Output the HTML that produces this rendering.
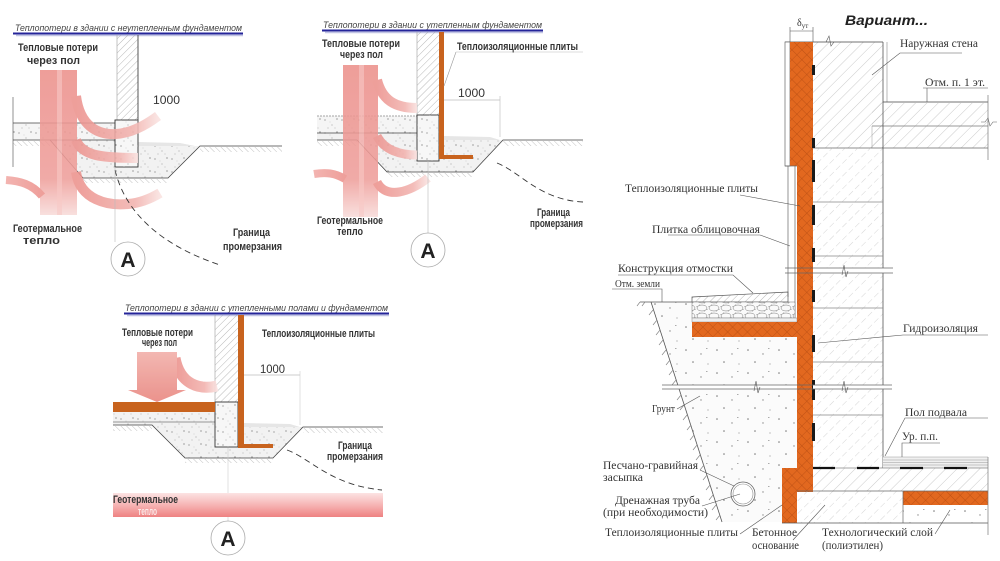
<!DOCTYPE html>
<html><head><meta charset="utf-8"><style>html,body{margin:0;padding:0;background:#fff;}svg{display:block}</style></head><body>
<svg width="1000" height="561" viewBox="0 0 1000 561" xmlns="http://www.w3.org/2000/svg" font-family="Liberation Sans, sans-serif">
<defs>
<pattern id="hw" width="5" height="5" patternUnits="userSpaceOnUse" patternTransform="rotate(45)"><line x1="0" y1="0" x2="0" y2="5" stroke="#9a9a9a" stroke-width="0.7"/></pattern>
<pattern id="hc" width="8" height="8" patternUnits="userSpaceOnUse" patternTransform="rotate(45)"><line x1="0" y1="0" x2="0" y2="8" stroke="#a8a8a8" stroke-width="0.6"/></pattern>
<pattern id="hb" width="9" height="9" patternUnits="userSpaceOnUse" patternTransform="rotate(45)"><line x1="0" y1="0" x2="0" y2="6" stroke="#b8b8b8" stroke-width="0.6"/></pattern>
<pattern id="hg" width="4" height="4" patternUnits="userSpaceOnUse" patternTransform="rotate(-45)"><line x1="0" y1="0" x2="0" y2="4" stroke="#999" stroke-width="0.6"/></pattern>
<pattern id="dots" width="17" height="13" patternUnits="userSpaceOnUse"><circle cx="2" cy="3" r=".6" fill="#777"/><circle cx="9" cy="8" r=".5" fill="#888"/><circle cx="14" cy="2" r=".6" fill="#666"/><circle cx="5" cy="11" r=".5" fill="#999"/><circle cx="12" cy="11" r=".4" fill="#777"/><circle cx="7" cy="5" r=".4" fill="#aaa"/></pattern>
<pattern id="sp" width="31" height="23" patternUnits="userSpaceOnUse"><circle cx="4" cy="5" r=".8" fill="#777"/><circle cx="19" cy="9" r=".7" fill="#888"/><circle cx="11" cy="17" r=".8" fill="#777"/><circle cx="26" cy="19" r=".6" fill="#999"/><rect x="24" y="3" width="1.5" height=".7" fill="#888"/></pattern>
<pattern id="peb" width="12" height="8" patternUnits="userSpaceOnUse"><rect width="12" height="8" fill="#fafafa"/><ellipse cx="6" cy="4" rx="5" ry="3" fill="none" stroke="#777" stroke-width=".5"/><ellipse cx="0" cy="0" rx="4" ry="2.5" fill="none" stroke="#888" stroke-width=".4"/><ellipse cx="12" cy="8" rx="4" ry="2.5" fill="none" stroke="#888" stroke-width=".4"/></pattern>
<pattern id="or" width="7" height="7" patternUnits="userSpaceOnUse" patternTransform="rotate(45)"><rect width="7" height="7" fill="#e2681f"/><path d="M0 0H7M0 0V7" stroke="#b34a12" stroke-width="0.7"/></pattern>
<linearGradient id="pv" x1="0" y1="0" x2="0" y2="1"><stop offset="0" stop-color="#ec918c"/><stop offset=".75" stop-color="#ef9f9b"/><stop offset="1" stop-color="#f8dcda"/></linearGradient>
<linearGradient id="ph" x1="0" y1="0" x2="1" y2="0"><stop offset="0" stop-color="#ec928d"/><stop offset=".7" stop-color="#f2b3af"/><stop offset="1" stop-color="#fae2e0"/></linearGradient>
<linearGradient id="pl" x1="1" y1="0" x2="0" y2="0"><stop offset="0" stop-color="#ec928d"/><stop offset="1" stop-color="#f2aaa6"/></linearGradient>
<linearGradient id="geo" x1="0" y1="0" x2="0" y2="1"><stop offset="0" stop-color="#fce3e3"/><stop offset=".5" stop-color="#f6b4b4"/><stop offset="1" stop-color="#ee8282"/></linearGradient>
<linearGradient id="ar" x1="0" y1="0" x2="0" y2="1"><stop offset="0" stop-color="#f2b0aa"/><stop offset="1" stop-color="#e98780"/></linearGradient>
</defs>
<rect width="1000" height="561" fill="#fff"/>

<!-- ============ DIAGRAM 1 ============ -->
<g>
<text x="15" y="31" font-style="italic" font-size="9" fill="#444" textLength="227" lengthAdjust="spacingAndGlyphs">Теплопотери в здании с неутепленным фундаментом</text>
<line x1="13" y1="33.5" x2="243" y2="33.5" stroke="#25259a" stroke-width="2"/>
<line x1="16" y1="35.5" x2="243" y2="35.5" stroke="#a7acd9" stroke-width="1.5" opacity=".7"/>
<rect x="13" y="123" width="102" height="17" fill="#f5f5f5"/>
<rect x="13" y="123" width="102" height="17" fill="url(#dots)"/>
<polygon points="50,140 115,140 115,167 138,167 138,146 200,146 168,178 83,178" fill="#f2f2f2"/>
<polygon points="50,140 115,140 115,167 138,167 138,146 200,146 168,178 83,178" fill="url(#dots)"/>
<polygon points="138,146 138,142 180,143 195,146" fill="#e6e6e6"/>
<rect x="13" y="141" width="37" height="5" fill="url(#hg)"/>
<rect x="200" y="147" width="82" height="5" fill="url(#hg)"/>
<rect x="83" y="179" width="85" height="4" fill="url(#hg)"/>
<line x1="13" y1="97" x2="13" y2="167" stroke="#777" stroke-width=".8"/>
<line x1="13" y1="123" x2="115" y2="123" stroke="#444" stroke-width=".8"/>
<line x1="13" y1="140" x2="115" y2="140" stroke="#444" stroke-width=".8"/>
<polyline points="50,140 83,178 168,178 200,146 282,146" fill="none" stroke="#444" stroke-width=".8"/>
<rect x="117" y="35" width="21" height="85" fill="url(#hw)"/>
<line x1="117" y1="35" x2="117" y2="120" stroke="#aaa" stroke-width=".7"/>
<line x1="138" y1="35" x2="138" y2="120" stroke="#444" stroke-width=".9"/>
<rect x="115" y="120" width="23" height="47" fill="#f7f7f7" stroke="#333" stroke-width=".9"/>
<rect x="115" y="120" width="23" height="47" fill="url(#dots)"/>
<g opacity=".88">
<rect x="40" y="70" width="37" height="145" fill="url(#pv)"/>
<rect x="57" y="70" width="5" height="145" fill="#f6c2be" opacity=".6"/>
<path d="M76,96 C80,128 100,135 116,134 C132,133 146,125 158,116" fill="none" stroke="url(#ph)" stroke-width="10"/>
<path d="M76,140 C82,156 102,158 138,158" fill="none" stroke="url(#ph)" stroke-width="10"/>
<path d="M76,172 C80,200 108,206 128,204 C140,203 150,199 160,193" fill="none" stroke="url(#ph)" stroke-width="10"/>
<path d="M42,196 C32,184 20,181 6,180" fill="none" stroke="url(#pl)" stroke-width="8"/>
</g>
<path d="M115,170 C125,212 160,245 220,265" fill="none" stroke="#333" stroke-width=".9" stroke-dasharray="6 4"/>
<line x1="115" y1="167" x2="115" y2="242" stroke="#bbb" stroke-width=".6"/>
<text x="153" y="104" font-size="12" fill="#333" textLength="27" lengthAdjust="spacingAndGlyphs">1000</text>
<g font-weight="bold" font-size="11" fill="#333">
<text x="18" y="51" textLength="80" lengthAdjust="spacingAndGlyphs">Тепловые потери</text>
<text x="27" y="64" textLength="53" lengthAdjust="spacingAndGlyphs">через пол</text>
<text x="13" y="232" textLength="69" lengthAdjust="spacingAndGlyphs">Геотермальное</text>
<text x="23" y="244" textLength="37" lengthAdjust="spacingAndGlyphs">тепло</text>
<text x="233" y="236" textLength="37" lengthAdjust="spacingAndGlyphs">Граница</text>
<text x="223" y="250" textLength="59" lengthAdjust="spacingAndGlyphs">промерзания</text>
</g>
<circle cx="128" cy="259" r="17" fill="#fff" stroke="#aaa" stroke-width=".8"/>
<text x="128" y="267" font-size="21" font-weight="bold" text-anchor="middle" fill="#222">A</text>
</g>

<!-- ============ DIAGRAM 2 ============ -->
<g>
<text x="323" y="28" font-style="italic" font-size="9" fill="#444" textLength="219" lengthAdjust="spacingAndGlyphs">Теплопотери в здании с утепленным фундаментом</text>
<line x1="322" y1="30.5" x2="543" y2="30.5" stroke="#25259a" stroke-width="2"/>
<line x1="325" y1="32.5" x2="543" y2="32.5" stroke="#a7acd9" stroke-width="1.5" opacity=".7"/>
<rect x="317" y="116" width="100" height="17" fill="#f5f5f5"/>
<rect x="317" y="116" width="100" height="17" fill="url(#dots)"/>
<polygon points="317,133 417,133 417,161 439,161 439,140 503,140 473,172 387,172 357,140 317,140" fill="#f2f2f2"/>
<polygon points="317,133 417,133 417,161 439,161 439,140 503,140 473,172 387,172 357,140 317,140" fill="url(#dots)"/>
<polygon points="444,140 444,136 490,137 500,140" fill="#e6e6e6"/>
<rect x="317" y="141" width="40" height="5" fill="url(#hg)"/>
<rect x="503" y="141" width="80" height="5" fill="url(#hg)"/>
<rect x="387" y="173" width="86" height="4" fill="url(#hg)"/>
<line x1="317" y1="116" x2="417" y2="116" stroke="#888" stroke-width=".8" stroke-dasharray="2 1"/>
<line x1="317" y1="133" x2="417" y2="133" stroke="#444" stroke-width=".8"/>
<polyline points="317,140 357,140 387,172 473,172 503,140 583,140" fill="none" stroke="#444" stroke-width=".8"/>
<rect x="417" y="32" width="22" height="83" fill="url(#hw)"/>
<line x1="417" y1="32" x2="417" y2="115" stroke="#aaa" stroke-width=".7"/>
<rect x="417" y="115" width="22" height="46" fill="#f7f7f7" stroke="#333" stroke-width=".9"/>
<rect x="417" y="115" width="22" height="46" fill="url(#dots)"/>
<rect x="439" y="32" width="5" height="127" fill="#c8631e"/>
<rect x="439" y="155" width="34" height="4" fill="#c8631e"/>
<g opacity=".88">
<rect x="343" y="65" width="35" height="152" fill="url(#pv)"/>
<rect x="359" y="65" width="5" height="152" fill="#f6c2be" opacity=".6"/>
<path d="M377,80 C382,100 395,108 417,108" fill="none" stroke="url(#ph)" stroke-width="10"/>
<path d="M377,136 C384,150 400,155 417,155" fill="none" stroke="url(#ph)" stroke-width="9"/>
<path d="M377,182 C386,200 410,192 428,178" fill="none" stroke="url(#ph)" stroke-width="9"/>
<path d="M345,179 C335,173 326,172 314,174" fill="none" stroke="url(#pl)" stroke-width="8"/>
</g>
<path d="M497,163 C520,172 540,200 583,202" fill="none" stroke="#333" stroke-width=".9" stroke-dasharray="6 4"/>
<line x1="428" y1="161" x2="428" y2="233" stroke="#bbb" stroke-width=".6"/>
<line x1="444" y1="100" x2="500" y2="100" stroke="#999" stroke-width=".6"/>
<line x1="500" y1="96" x2="500" y2="137" stroke="#bbb" stroke-width=".6"/>
<line x1="444" y1="86" x2="456" y2="52" stroke="#999" stroke-width=".6"/>
<line x1="456" y1="52" x2="583" y2="52" stroke="#bbb" stroke-width=".6"/>
<text x="458" y="97" font-size="12" fill="#333" textLength="27" lengthAdjust="spacingAndGlyphs">1000</text>
<g font-weight="bold" font-size="11" fill="#333">
<text x="322" y="47" textLength="78" lengthAdjust="spacingAndGlyphs">Тепловые потери</text>
<text x="340" y="58" textLength="43" lengthAdjust="spacingAndGlyphs">через пол</text>
<text x="457" y="50" textLength="121" lengthAdjust="spacingAndGlyphs">Теплоизоляционные плиты</text>
<text x="317" y="224" textLength="66" lengthAdjust="spacingAndGlyphs">Геотермальное</text>
<text x="337" y="235" textLength="26" lengthAdjust="spacingAndGlyphs">тепло</text>
<text x="537" y="216" textLength="33" lengthAdjust="spacingAndGlyphs">Граница</text>
<text x="530" y="227" textLength="53" lengthAdjust="spacingAndGlyphs">промерзания</text>
</g>
<circle cx="428" cy="250" r="17" fill="#fff" stroke="#aaa" stroke-width=".8"/>
<text x="428" y="258" font-size="21" font-weight="bold" text-anchor="middle" fill="#222">A</text>
</g>

<!-- ============ DIAGRAM 3 ============ -->
<g>
<text x="125" y="311" font-style="italic" font-size="9" fill="#444" textLength="263" lengthAdjust="spacingAndGlyphs">Теплопотери в здании с утепленными полами и фундаментом</text>
<line x1="124" y1="313.5" x2="389" y2="313.5" stroke="#25259a" stroke-width="2"/>
<line x1="127" y1="315.5" x2="389" y2="315.5" stroke="#a7acd9" stroke-width="1.5" opacity=".7"/>
<polygon points="113,412 215,412 215,447 238,447 238,427 303,427 273,458 185,458 152,425 113,425" fill="#f2f2f2"/>
<polygon points="113,412 215,412 215,447 238,447 238,427 303,427 273,458 185,458 152,425 113,425" fill="url(#dots)"/>
<polygon points="244,427 244,423 290,424 300,427" fill="#e6e6e6"/>
<rect x="113" y="426" width="39" height="5" fill="url(#hg)"/>
<rect x="303" y="428" width="80" height="5" fill="url(#hg)"/>
<rect x="185" y="459" width="88" height="4" fill="url(#hg)"/>
<line x1="113" y1="422" x2="215" y2="422" stroke="#777" stroke-width=".7"/>
<polyline points="113,425 152,425 185,458 273,458 303,427 383,427" fill="none" stroke="#444" stroke-width=".8"/>
<rect x="215" y="315" width="23" height="87" fill="url(#hw)"/>
<line x1="215" y1="315" x2="215" y2="402" stroke="#aaa" stroke-width=".7"/>
<rect x="215" y="402" width="23" height="45" fill="#f7f7f7" stroke="#333" stroke-width=".9"/>
<rect x="215" y="402" width="23" height="45" fill="url(#dots)"/>
<rect x="113" y="402" width="102" height="10" fill="#c8631e"/>
<rect x="238" y="315" width="6" height="133" fill="#c8631e"/>
<rect x="238" y="444" width="35" height="4" fill="#c8631e"/>
<g opacity=".9">
<path d="M175,358 C180,385 200,390 217,386" fill="none" stroke="url(#ph)" stroke-width="11"/>
<path d="M137,352 H177 V390 H186 L157,402 L128,390 H137 Z" fill="url(#ar)"/>
</g>
<path d="M287,450 C310,458 330,485 382,490" fill="none" stroke="#333" stroke-width=".9" stroke-dasharray="6 4"/>
<line x1="228" y1="448" x2="228" y2="521" stroke="#ccc" stroke-width=".6"/>
<line x1="244" y1="375" x2="300" y2="375" stroke="#999" stroke-width=".6"/>
<line x1="300" y1="371" x2="300" y2="425" stroke="#ccc" stroke-width=".6"/>
<rect x="113" y="493" width="270" height="24" fill="url(#geo)"/>
<text x="260" y="373" font-size="12" fill="#333" textLength="25" lengthAdjust="spacingAndGlyphs">1000</text>
<g font-weight="bold" font-size="11" fill="#333">
<text x="122" y="336" textLength="71" lengthAdjust="spacingAndGlyphs">Тепловые потери</text>
<text x="142" y="346" textLength="35" lengthAdjust="spacingAndGlyphs">через пол</text>
<text x="262" y="337" textLength="113" lengthAdjust="spacingAndGlyphs">Теплоизоляционные плиты</text>
<text x="338" y="449" textLength="34" lengthAdjust="spacingAndGlyphs">Граница</text>
<text x="327" y="460" textLength="56" lengthAdjust="spacingAndGlyphs">промерзания</text>
<text x="113" y="503" textLength="65" lengthAdjust="spacingAndGlyphs">Геотермальное</text>
<text x="138" y="515" textLength="19" lengthAdjust="spacingAndGlyphs" fill="#fbeaea">тепло</text>
</g>
<circle cx="228" cy="538" r="17" fill="#fff" stroke="#aaa" stroke-width=".8"/>
<text x="228" y="546" font-size="21" font-weight="bold" text-anchor="middle" fill="#222">A</text>
</g>

<!-- ============ RIGHT DIAGRAM ============ -->
<g>
<text x="845" y="25" font-size="14" font-weight="bold" font-style="italic" fill="#222" textLength="83" lengthAdjust="spacingAndGlyphs">Вариант...</text>
<polygon points="651,302 692,302 692,337 797,337 797,468 782,468 782,522 722,522" fill="#fbfbfb"/>
<polygon points="651,302 692,302 692,337 797,337 797,468 782,468 782,522 722,522" fill="url(#sp)"/>
<line x1="640" y1="302" x2="692" y2="302" stroke="#555" stroke-width=".8"/>
<line x1="651" y1="302" x2="722" y2="522" stroke="#555" stroke-width=".8"/>
<path d="M653,310 l-4,5 M657,320 l-4,5 M660,330 l-4,5 M663,340 l-4,5 M666,350 l-4,5 M670,360 l-4,5 M673,370 l-4,5 M676,380 l-4,5 M681,395 l-4,5 M684,405 l-4,5 M687,415 l-4,5 M691,425 l-4,5 M694,435 l-4,5 M697,445 l-4,5 M700,455 l-4,5 M704,465 l-4,5 M707,475 l-4,5 M710,485 l-4,5 M713,495 l-4,5 M716,505 l-4,5 M720,515 l-4,5 M645,302 l-3,4 M640,302 l-3,4" stroke="#888" stroke-width=".7" fill="none"/>
<rect x="813" y="42" width="70" height="106" fill="url(#hc)"/>
<rect x="872" y="103" width="116" height="45" fill="url(#hc)"/>
<line x1="785" y1="42" x2="883" y2="42" stroke="#444" stroke-width=".8"/>
<path d="M826,42 l3,-6 l2,10 l3,-4" fill="none" stroke="#555" stroke-width=".6"/>
<line x1="883" y1="42" x2="883" y2="102" stroke="#555" stroke-width=".8"/>
<line x1="887" y1="42" x2="887" y2="102" stroke="#888" stroke-width=".6"/>
<line x1="883" y1="102" x2="988" y2="102" stroke="#444" stroke-width=".8"/>
<line x1="872" y1="126" x2="988" y2="126" stroke="#777" stroke-width=".7"/>
<line x1="872" y1="126" x2="872" y2="148" stroke="#999" stroke-width=".5"/>
<line x1="813" y1="148" x2="988" y2="148" stroke="#666" stroke-width=".8"/>
<line x1="988" y1="95" x2="988" y2="160" stroke="#777" stroke-width=".7"/>
<path d="M981,122 h4 l3,-4 l2,8 l3,-4 h4" fill="none" stroke="#666" stroke-width=".6"/>
<rect x="813" y="148" width="70" height="320" fill="url(#hb)"/>
<line x1="883" y1="102" x2="883" y2="468" stroke="#555" stroke-width=".8"/>
<g stroke="#888" stroke-width=".8">
<line x1="813" y1="202" x2="883" y2="202"/><line x1="813" y1="256" x2="883" y2="256"/><line x1="813" y1="308" x2="883" y2="308"/><line x1="813" y1="362" x2="883" y2="362"/><line x1="813" y1="415" x2="883" y2="415"/>
</g>
<rect x="785" y="42" width="5" height="124" fill="#fff" stroke="#666" stroke-width=".7"/>
<rect x="790" y="42" width="23" height="124" fill="url(#or)"/>
<line x1="785" y1="166" x2="797" y2="166" stroke="#666" stroke-width=".7"/>
<line x1="788" y1="166" x2="788" y2="297" stroke="#666" stroke-width=".7"/>
<line x1="795" y1="166" x2="795" y2="318" stroke="#666" stroke-width=".7"/>
<polygon points="692,297 788,292 788,302 692,302" fill="url(#hw)" stroke="#555" stroke-width=".7"/>
<rect x="692" y="302" width="103" height="16" fill="url(#peb)" stroke="#777" stroke-width=".5"/>
<rect x="692" y="318" width="105" height="4" fill="#eee" stroke="#888" stroke-width=".5"/>
<rect x="692" y="322" width="105" height="15" fill="url(#or)"/>
<rect x="797" y="166" width="16" height="326" fill="url(#or)"/>
<rect x="782" y="468" width="15" height="55" fill="url(#or)"/>
<rect x="883" y="457" width="105" height="11" fill="#f0f0f0"/>
<g stroke="#999" stroke-width=".6"><line x1="883" y1="457" x2="988" y2="457"/><line x1="883" y1="460" x2="988" y2="460"/><line x1="883" y1="462.5" x2="988" y2="462.5"/><line x1="883" y1="465" x2="988" y2="465"/></g>
<rect x="813" y="468" width="175" height="23" fill="url(#hc)"/>
<rect x="797" y="491" width="106" height="32" fill="url(#hb)"/>
<rect x="903" y="491" width="85" height="14" fill="url(#or)"/>
<rect x="903" y="505" width="85" height="18" fill="url(#sp)"/>
<line x1="813" y1="468" x2="988" y2="468" stroke="#888" stroke-width=".7"/>
<g stroke="#111" stroke-width="2.2"><line x1="813" y1="468" x2="835" y2="468"/><line x1="857" y1="468" x2="879" y2="468"/><line x1="900" y1="468" x2="923" y2="468"/><line x1="944" y1="468" x2="967" y2="468"/></g>
<line x1="797" y1="491" x2="988" y2="491" stroke="#666" stroke-width=".7"/>
<line x1="782" y1="523" x2="988" y2="523" stroke="#555" stroke-width=".8"/>
<line x1="903" y1="491" x2="903" y2="523" stroke="#666" stroke-width=".7"/>
<line x1="988" y1="457" x2="988" y2="535" stroke="#777" stroke-width=".7"/>
<g fill="#1a1a1a"><rect x="812" y="65" width="3" height="10"/><rect x="812" y="138" width="3" height="10"/><rect x="812" y="160" width="3" height="22"/><rect x="812" y="205" width="3" height="20"/><rect x="812" y="248" width="3" height="14"/><rect x="812" y="290" width="3" height="12"/><rect x="812" y="335" width="3" height="17"/><rect x="812" y="380" width="3" height="20"/><rect x="812" y="423" width="3" height="18"/></g>
<rect x="813" y="268" width="80" height="5" fill="#fff"/>
<line x1="785" y1="268" x2="893" y2="268" stroke="#666" stroke-width=".7"/>
<line x1="785" y1="273" x2="893" y2="273" stroke="#666" stroke-width=".7"/>
<path d="M842,275 l2,-10 l2,12 l2,-6" fill="none" stroke="#555" stroke-width=".6"/>
<rect x="662" y="385" width="135" height="4" fill="#fff"/>
<rect x="813" y="385" width="79" height="4" fill="#fff"/>
<line x1="662" y1="385" x2="892" y2="385" stroke="#666" stroke-width=".7"/>
<line x1="662" y1="389" x2="892" y2="389" stroke="#666" stroke-width=".7"/>
<path d="M754,391 l2,-10 l2,12 l2,-6 M842,391 l2,-10 l2,12 l2,-6" fill="none" stroke="#555" stroke-width=".6"/>
<circle cx="743" cy="494" r="12" fill="#fff" stroke="#666" stroke-width=".8"/>
<circle cx="743" cy="494" r="10" fill="none" stroke="#888" stroke-width=".6"/>
<g stroke="#555" stroke-width=".6" fill="none">
<line x1="790" y1="31" x2="813" y2="31"/><line x1="790" y1="27" x2="790" y2="42"/><line x1="813" y1="27" x2="813" y2="42"/>
<polyline points="872,75 900,53 962,53"/>
<polyline points="923,88 988,88"/><line x1="927" y1="88" x2="927" y2="102"/>
<line x1="740" y1="195" x2="800" y2="206"/>
<polyline points="668,235 760,235 790,246"/>
<polyline points="618,275 733,275 753,293"/>
<polyline points="612,289 662,289 662,302"/>
<polyline points="988,335 903,335 818,343"/>
<line x1="677" y1="409" x2="700" y2="396"/>
<polyline points="988,418 905,418 885,456"/>
<polyline points="940,443 902,443 902,457"/>
<line x1="700" y1="470" x2="734" y2="486"/>
<line x1="702" y1="506" x2="740" y2="494"/>
<line x1="740" y1="534" x2="782" y2="505"/>
<line x1="793" y1="540" x2="825" y2="505"/>
<line x1="935" y1="534" x2="950" y2="510"/>
</g>
<g font-family="Liberation Serif, serif" font-size="12" fill="#333">
<text x="797" y="26" font-size="10">δ<tspan font-size="7" dy="2">ут</tspan></text>
<text x="900" y="47" textLength="78" lengthAdjust="spacingAndGlyphs">Наружная стена</text>
<text x="925" y="86" textLength="60" lengthAdjust="spacingAndGlyphs">Отм. п. 1 эт.</text>
<text x="625" y="192" textLength="133" lengthAdjust="spacingAndGlyphs">Теплоизоляционные плиты</text>
<text x="652" y="233" textLength="108" lengthAdjust="spacingAndGlyphs">Плитка облицовочная</text>
<text x="618" y="272" textLength="115" lengthAdjust="spacingAndGlyphs">Конструкция отмостки</text>
<text x="615" y="287" font-size="10" textLength="45" lengthAdjust="spacingAndGlyphs">Отм. земли</text>
<text x="903" y="332" textLength="75" lengthAdjust="spacingAndGlyphs">Гидроизоляция</text>
<text x="652" y="412" font-size="10" textLength="23" lengthAdjust="spacingAndGlyphs">Грунт</text>
<text x="905" y="416" textLength="62" lengthAdjust="spacingAndGlyphs">Пол подвала</text>
<text x="902" y="440" textLength="36" lengthAdjust="spacingAndGlyphs">Ур. п.п.</text>
<text x="603" y="469" textLength="95" lengthAdjust="spacingAndGlyphs">Песчано-гравийная</text>
<text x="603" y="481" textLength="40" lengthAdjust="spacingAndGlyphs">засыпка</text>
<text x="615" y="504" textLength="85" lengthAdjust="spacingAndGlyphs">Дренажная труба</text>
<text x="603" y="516" textLength="105" lengthAdjust="spacingAndGlyphs">(при необходимости)</text>
<text x="605" y="536" textLength="133" lengthAdjust="spacingAndGlyphs">Теплоизоляционные плиты</text>
<text x="752" y="536" textLength="45" lengthAdjust="spacingAndGlyphs">Бетонное</text>
<text x="752" y="549" textLength="47" lengthAdjust="spacingAndGlyphs">основание</text>
<text x="822" y="536" textLength="111" lengthAdjust="spacingAndGlyphs">Технологический слой</text>
<text x="822" y="549" textLength="61" lengthAdjust="spacingAndGlyphs">(полиэтилен)</text>
</g>
</g>
</svg>
</body></html>
